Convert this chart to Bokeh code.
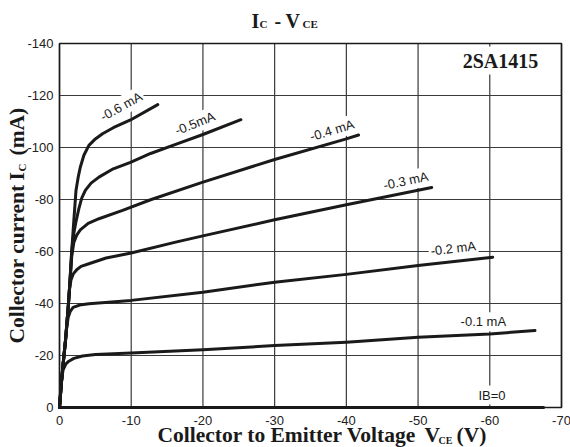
import math
from bokeh.plotting import figure
from bokeh.models import Range1d, Label
from bokeh.core.properties import value
from bokeh.embed import file_html
from bokeh.resources import INLINE

# ---------------- data ----------------
x_ticks = [0, -10, -20, -30, -40, -50, -60, -70]
x_tick_labels = ["0", "-10", "-20", "-30", "-40", "-50", "-60", "-70"]
y_ticks = [0, -20, -40, -60, -80, -100, -120, -140]
y_tick_labels = ["0", "-20", "-40", "-60", "-80", "-100", "-120", "-140"]

vce_00 = [0, -67.5]
ic_00 = [0, 0]

vce_01 = [0, -0.25, -0.5, -0.9, -1.3, -2.0, -3.2, -5.0, -10.0, -20.0, -30.0, -40.0, -50.0, -60.0, -66.3]
ic_01 = [0, -10.0, -14.5, -16.8, -17.8, -18.9, -19.8, -20.4, -21.0, -22.2, -23.8, -25.1, -27.0, -28.3, -29.6]

vce_02 = [0, -0.25, -0.46, -0.84, -1.0, -1.2, -1.5, -1.9, -2.8, -4.1, -10.0, -20.0, -30.0, -40.0, -50.0, -60.4]
ic_02 = [0, -9.0, -15.5, -26.0, -30.5, -34.5, -37.0, -38.5, -39.4, -39.9, -41.2, -44.3, -48.2, -51.2, -54.6, -57.8]

vce_03 = [0, -0.25, -0.46, -0.84, -1.25, -1.4, -1.6, -1.9, -2.4, -3.0, -4.1, -6.5, -10.0, -16.2, -20.0, -30.0, -40.0, -51.9]
ic_03 = [0, -9.0, -15.5, -25.8, -40.0, -45.5, -49.0, -51.3, -53.0, -54.3, -55.3, -57.5, -59.4, -63.6, -66.0, -72.2, -78.0, -84.6]

vce_04 = [0, -0.25, -0.46, -0.84, -1.25, -1.45, -1.7, -2.0, -2.4, -2.9, -4.0, -5.5, -8.8, -12.7, -20.0, -30.0, -40.0, -41.7]
ic_04 = [0, -9.0, -15.5, -25.8, -40.0, -48.0, -58.0, -63.5, -66.3, -68.3, -70.8, -72.6, -75.8, -79.9, -86.7, -95.4, -103.3, -104.8]

vce_05 = [0, -0.25, -0.46, -0.84, -1.25, -1.45, -1.7, -2.0, -2.3, -2.7, -3.1, -3.6, -4.4, -5.5, -7.5, -9.9, -12.7, -16.2, -20.0, -25.3]
ic_05 = [0, -9.0, -15.5, -25.8, -40.0, -48.0, -60.0, -67.0, -71.5, -76.5, -80.5, -83.5, -86.3, -88.6, -91.8, -94.3, -97.7, -101.2, -105.0, -110.7]

vce_06 = [0, -0.25, -0.46, -0.84, -1.25, -1.45, -1.7, -2.0, -2.3, -2.6, -2.9, -3.4, -4.1, -5.0, -6.0, -7.5, -9.9, -13.7]
ic_06 = [0, -9.0, -15.5, -25.8, -40.0, -48.0, -60.0, -72.0, -83.5, -88.5, -92.4, -97.0, -100.8, -103.3, -105.3, -107.6, -110.6, -116.5]

curve_labels = ["IB=0", "-0.1 mA", "-0.2 mA", "-0.3 mA", "-0.4 mA", "-0.5mA", "-0.6 mA"]
label_x = [-60.3, -59.1, -54.9, -48.3, -38.0, -18.9, -8.6]
label_y = [-4.8, -33.0, -61.2, -87.2, -106.6, -109.3, -115.8]
label_angle_deg = [0, 0, 7, 12, 17, 22, 29]

part_number = "2SA1415"

# ---------------- layout ----------------
W, H = 570, 447
PL, PR, PT, PB = 59, 561, 43, 407        # plot-area edges in pixels
X0, X1 = 0, -70
Y0, Y1 = 0, -140
SX = (X1 - X0) / (PR - PL)
SY = (Y1 - Y0) / (PB - PT)

def fx(px):
    return X0 + (px - PL) * SX

def fy(py):
    return Y0 + (PB - py) * SY

p = figure(width=W, height=H, output_backend="svg", toolbar_location=None,
           x_range=Range1d(fx(0), fx(W)), y_range=Range1d(fy(H), fy(0)),
           x_axis_type=None, y_axis_type=None, min_border=0)
p.min_border_left = 0
p.min_border_right = 0
p.min_border_top = 0
p.min_border_bottom = 0
p.outline_line_color = None
p.background_fill_color = "white"
p.border_fill_color = "white"

INK = "#1a1a1a"

# grid lines from the tick arrays
p.segment(x0=x_ticks, y0=[Y0] * len(x_ticks), x1=x_ticks, y1=[Y1] * len(x_ticks),
          line_color="#3a3a3a", line_width=1.2)
p.segment(x0=[X0] * len(y_ticks), y0=y_ticks, x1=[X1] * len(y_ticks), y1=y_ticks,
          line_color="#3a3a3a", line_width=1.2)

# tick labels
p.text(x=x_ticks, y=[fy(420)] * len(x_ticks), text=x_tick_labels,
       text_font=value("Liberation Sans"), text_font_size=value("13px"),
       text_color="#222222", text_align="center", text_baseline="middle")
p.text(x=[fx(53)] * len(y_ticks), y=y_ticks, text=y_tick_labels,
       text_font=value("Liberation Sans"), text_font_size=value("13px"),
       text_color="#222222", text_align="right", text_baseline="middle")

# curve labels (white boxes hide the grid)
for t, lx, ly, a in zip(curve_labels, label_x, label_y, label_angle_deg):
    p.add_layout(Label(x=lx, y=ly, text=t, angle=math.radians(a),
                       text_align="center", text_baseline="middle",
                       text_font="Liberation Sans", text_font_size="13px",
                       text_color=INK, background_fill_color="white", padding=2))

p.add_layout(Label(x=fx(500), y=fy(60), text=part_number,
                   text_align="center", text_baseline="middle",
                   text_font="Liberation Serif", text_font_style="bold",
                   text_font_size="20px", text_color=INK,
                   background_fill_color="white", padding=3))

# curves
series = [(vce_00, ic_00), (vce_01, ic_01), (vce_02, ic_02), (vce_03, ic_03),
          (vce_04, ic_04), (vce_05, ic_05), (vce_06, ic_06)]
for xs, ys in series:
    p.line(xs, ys, line_color=INK, line_width=3, line_join="round",
           line_cap="round", level="overlay")

# frame
p.quad(left=X0, right=X1, bottom=Y0, top=Y1, fill_color=None,
       line_color=INK, line_width=1.6, level="overlay")

def txt(px, py, s, size, angle=0.0):
    # Bokeh anchors 'alphabetic' a bit below the true baseline: compensate
    shift = 0.3 * size
    if angle:
        px -= shift
    else:
        py -= shift
    p.add_layout(Label(x=fx(px), y=fy(py), text=s, angle=angle,
                       text_align="left", text_baseline="alphabetic",
                       text_font="Liberation Serif", text_font_style="bold",
                       text_font_size=f"{size}px", text_color=INK))

# title  I_C - V_CE
txt(251, 26, "I", 20)
txt(259, 27, "C", 11)
txt(274, 26, "-", 20)
txt(285, 26, "V", 20)
txt(302, 27, "CE", 11)

# x axis label
txt(157, 441, "Collector to Emitter Voltage", 21.5)
txt(424, 441, "V", 21.5)
txt(438, 443, "CE", 10)
txt(456, 441, "(V)", 21.5)

# y axis label (rotated, reading upwards)
half_pi = math.pi / 2
txt(23, 343, "Collector current", 21.5, angle=half_pi)
txt(23, 180, "I", 21.5, angle=half_pi)
txt(25, 171, "C", 11, angle=half_pi)
txt(23, 155, "(mA)", 21.5, angle=half_pi)

open("out.html", "w").write(file_html(p, INLINE))
